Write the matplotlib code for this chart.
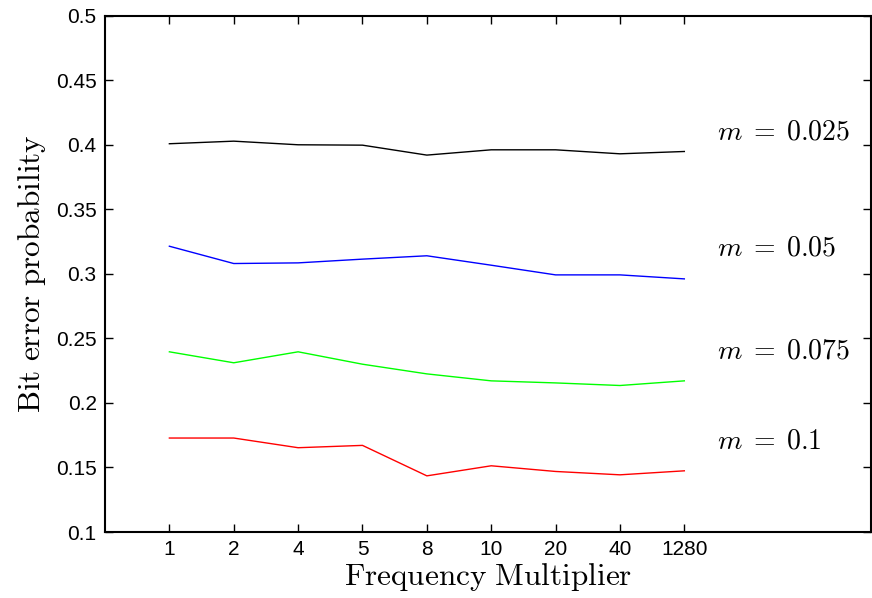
import matplotlib
matplotlib.use("Agg")
import matplotlib.pyplot as plt

plt.rcParams['mathtext.fontset'] = 'cm'
plt.rcParams['font.family'] = ['Liberation Sans', 'DejaVu Sans']

# data
tick_labels = ['1', '2', '4', '5', '8', '10', '20', '40', '1280']
m_labels = ['0.025', '0.05', '0.075', '0.1']
ber_m0025 = [0.4008, 0.4028, 0.4000, 0.3997, 0.3920, 0.3961, 0.3961, 0.3930, 0.3948]
ber_m005 = [0.3214, 0.3080, 0.3085, 0.3114, 0.3140, 0.3067, 0.2992, 0.2992, 0.2961]
ber_m0075 = [0.2396, 0.2311, 0.2396, 0.2300, 0.2225, 0.2171, 0.2155, 0.2135, 0.2171]
ber_m01 = [0.1728, 0.1728, 0.1653, 0.1671, 0.1435, 0.1513, 0.1469, 0.1443, 0.1474]
label_y = [0.4093, 0.3194, 0.2395, 0.1705]

series = [ber_m0025, ber_m005, ber_m0075, ber_m01]
colors = ['#000000', '#0000ff', '#00ff00', '#ff0000']

fig = plt.figure(figsize=(8.72, 5.98), dpi=100)
ax = fig.add_axes([105 / 872, (598 - 532) / 598, (871 - 105) / 872, (532 - 15.7) / 598])

x = list(range(1, len(tick_labels) + 1))
for vals, c in zip(series, colors):
    ax.plot(x, vals, color=c, linewidth=1.0)

for lab, yy in zip(m_labels, label_y):
    ax.text(9.5, yy, r'$m\;=\;' + lab + '$', fontsize=20, va='center', ha='left')

ax.set_xlim(0, 11.9)
ax.set_ylim(0.1, 0.5)
ax.set_xticks(x)
ax.set_xticklabels(tick_labels)
ax.set_yticks([0.1, 0.15, 0.2, 0.25, 0.3, 0.35, 0.4, 0.45, 0.5])
ax.set_yticklabels(['0.1', '0.15', '0.2', '0.25', '0.3', '0.35', '0.4', '0.45', '0.5'])
ax.tick_params(direction='in', top=True, right=True, length=6, width=1.0,
               labelsize=15, pad=6)
for s in ax.spines.values():
    s.set_linewidth(1.5)

ax.set_xlabel(r'$\mathrm{Frequency\ Multiplier}$', fontsize=22.5, labelpad=1)
ax.set_ylabel(r'$\mathrm{Bit\ error\ probability}$', fontsize=22.5, labelpad=6)

fig.savefig('out.png', dpi=100)
